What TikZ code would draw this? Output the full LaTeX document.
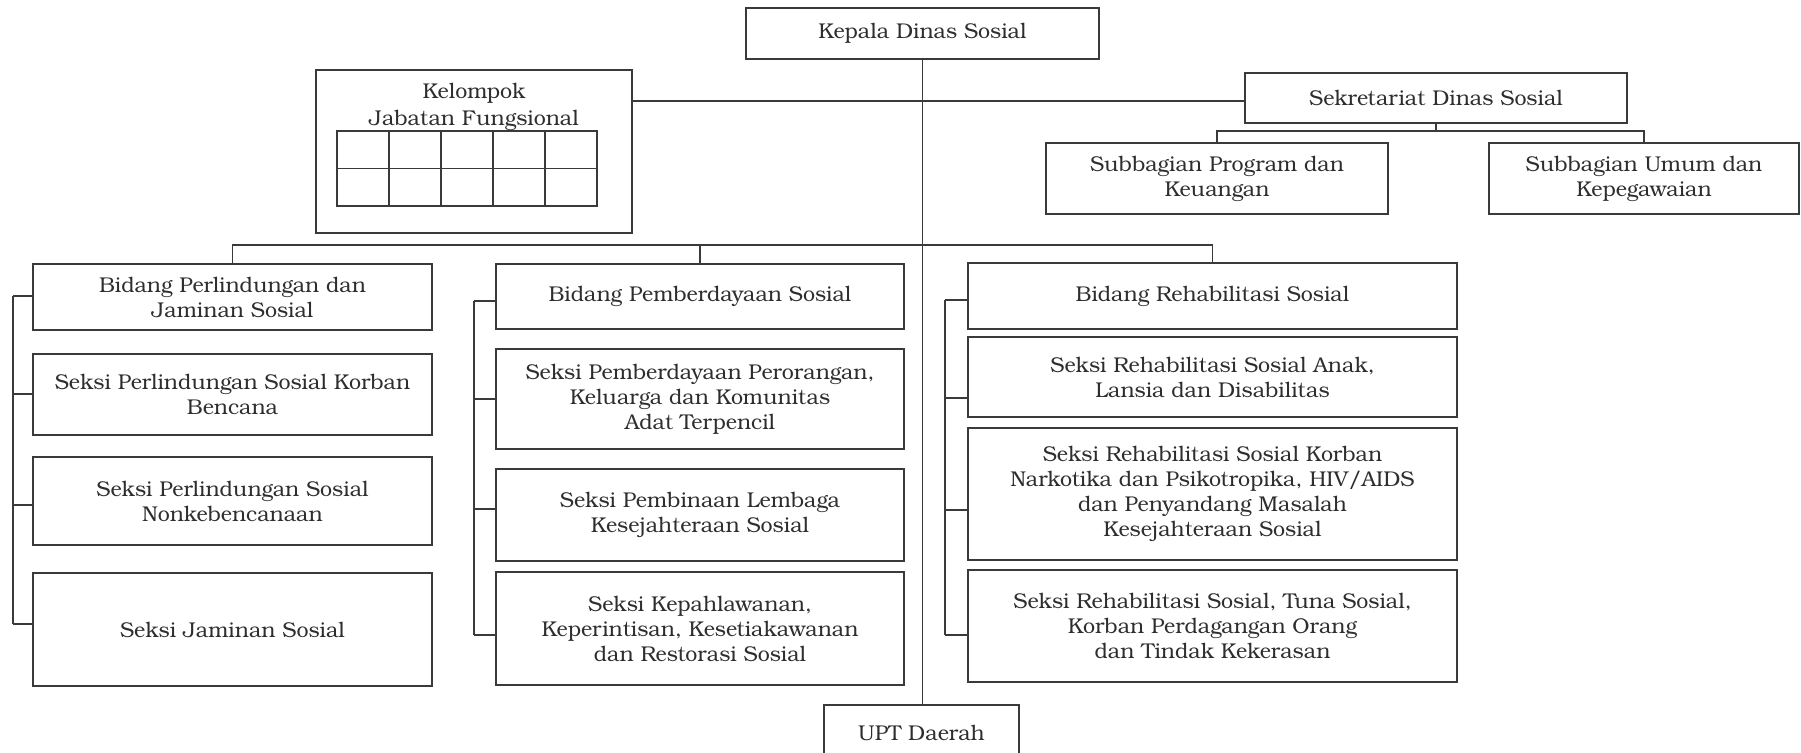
\documentclass[tikz,border=0pt]{standalone}
\usepackage{fontspec}
\setmainfont{TeX Gyre Bonum}
\definecolor{linegray}{HTML}{3A3A3A}
\definecolor{textgray}{HTML}{2E2E2E}
\newcommand\orgfont{\fontsize{21.4}{25}\selectfont}
\tikzset{
  orgbox/.style={draw=linegray, line width=2.3pt, inner sep=0pt, align=center,
                 font=\orgfont, text=textgray},
  link/.style={draw=linegray, line width=1.6pt},
  gridline/.style={draw=linegray, line width=1.8pt},
}
\begin{document}
\begin{tikzpicture}[x=1pt,y=-1pt]
\useasboundingbox (0,0) rectangle (1801,752);
\fill[white] (0,0) rectangle (1801,752);

% head, secretariat and functional group
\node[orgbox, minimum width=353pt, minimum height=51pt] (kepala) at (922.5,33.5) {Kepala Dinas Sosial};
\node[orgbox, minimum width=316pt, minimum height=163pt] (kel) at (474,151.5) {};
\node[font=\fontsize{21.4}{27}\selectfont, text=textgray, align=center, inner sep=0pt] (keltext) at (474,107) {Kelompok\\Jabatan Fungsional};
\draw[gridline] (337,131) rectangle (597,206);
\foreach \gx in {389,441,493,545} \draw[gridline] (\gx,131) -- (\gx,206);
\draw[gridline] (337,168.5) -- (597,168.5);

\node[orgbox, minimum width=382pt, minimum height=50pt] (sek) at (1436,98) {Sekretariat Dinas Sosial};
\node[orgbox, minimum width=342pt, minimum height=71pt] (sp) at (1217,178.5) {Subbagian Program dan\\Keuangan};
\node[orgbox, minimum width=310pt, minimum height=71pt] (su) at (1644,178.5) {Subbagian Umum dan\\Kepegawaian};

% left column
\node[orgbox, minimum width=399pt, minimum height=66pt]  (l1) at (232.5,297)   {Bidang Perlindungan dan\\Jaminan Sosial};
\node[orgbox, minimum width=399pt, minimum height=81pt]  (l2) at (232.5,394.5) {Seksi Perlindungan Sosial Korban\\Bencana};
\node[orgbox, minimum width=399pt, minimum height=88pt]  (l3) at (232.5,501)   {Seksi Perlindungan Sosial\\Nonkebencanaan};
\node[orgbox, minimum width=399pt, minimum height=113pt] (l4) at (232.5,629.5) {Seksi Jaminan Sosial};

% middle column
\node[orgbox, minimum width=408pt, minimum height=65pt]  (m1) at (700,296.5) {Bidang Pemberdayaan Sosial};
\node[orgbox, minimum width=408pt, minimum height=100pt] (m2) at (700,399)   {Seksi Pemberdayaan Perorangan,\\Keluarga dan Komunitas\\Adat Terpencil};
\node[orgbox, minimum width=408pt, minimum height=92pt]  (m3) at (700,515)   {Seksi Pembinaan Lembaga\\Kesejahteraan Sosial};
\node[orgbox, minimum width=408pt, minimum height=113pt] (m4) at (700,628.5) {Seksi Kepahlawanan,\\Keperintisan, Kesetiakawanan\\dan Restorasi Sosial};

% right column
\node[orgbox, minimum width=489pt, minimum height=66pt]  (r1) at (1212.5,296) {Bidang Rehabilitasi Sosial};
\node[orgbox, minimum width=489pt, minimum height=80pt]  (r2) at (1212.5,377) {Seksi Rehabilitasi Sosial Anak,\\Lansia dan Disabilitas};
\node[orgbox, minimum width=489pt, minimum height=132pt] (r3) at (1212.5,494) {Seksi Rehabilitasi Sosial Korban\\Narkotika dan Psikotropika, HIV/AIDS\\dan Penyandang Masalah\\Kesejahteraan Sosial};
\node[orgbox, minimum width=489pt, minimum height=112pt] (r4) at (1212.5,626) {Seksi Rehabilitasi Sosial, Tuna Sosial,\\Korban Perdagangan Orang\\dan Tindak Kekerasan};

% regional unit, running off the bottom edge
\node[orgbox, minimum width=195pt, minimum height=56pt] (upt) at (921.5,733) {UPT Daerah};

% trunk and branches
\coordinate (bidbus) at (922.5,245);
\coordinate (subbus) at (1436,131);
\coordinate (staffline) at (922.5,101);
\draw[link] (kepala.south) -- (kepala.south |- upt.north);
\draw[link] (kel.east |- staffline) -- (sek.west |- staffline);
\draw[link] (sek.south) -- (subbus);
\draw[link] (sp.north) |- (subbus) -| (su.north);
\draw[link] (l1.north) |- (bidbus) -| (r1.north);
\draw[link] (m1.north) -- (m1.north |- bidbus);

% section brackets
\coordinate (lb1) at (13,296);  \coordinate (lb2) at (13,394);
\coordinate (lb3) at (13,505);  \coordinate (lb4) at (13,624);
\coordinate (mb1) at (474,301); \coordinate (mb2) at (474,399);
\coordinate (mb3) at (474,509); \coordinate (mb4) at (474,635);
\coordinate (rb1) at (945,300); \coordinate (rb2) at (945,398);
\coordinate (rb3) at (945,510); \coordinate (rb4) at (945,635);
\draw[link] (lb1) -- (lb4);
\draw[link] (mb1) -- (mb4);
\draw[link] (rb1) -- (rb4);
\foreach \i in {1,2,3,4} {
  \draw[link] (lb\i) -- (lb\i -| l\i.west);
  \draw[link] (mb\i) -- (mb\i -| m\i.west);
  \draw[link] (rb\i) -- (rb\i -| r\i.west);
}
\end{tikzpicture}
\end{document}
